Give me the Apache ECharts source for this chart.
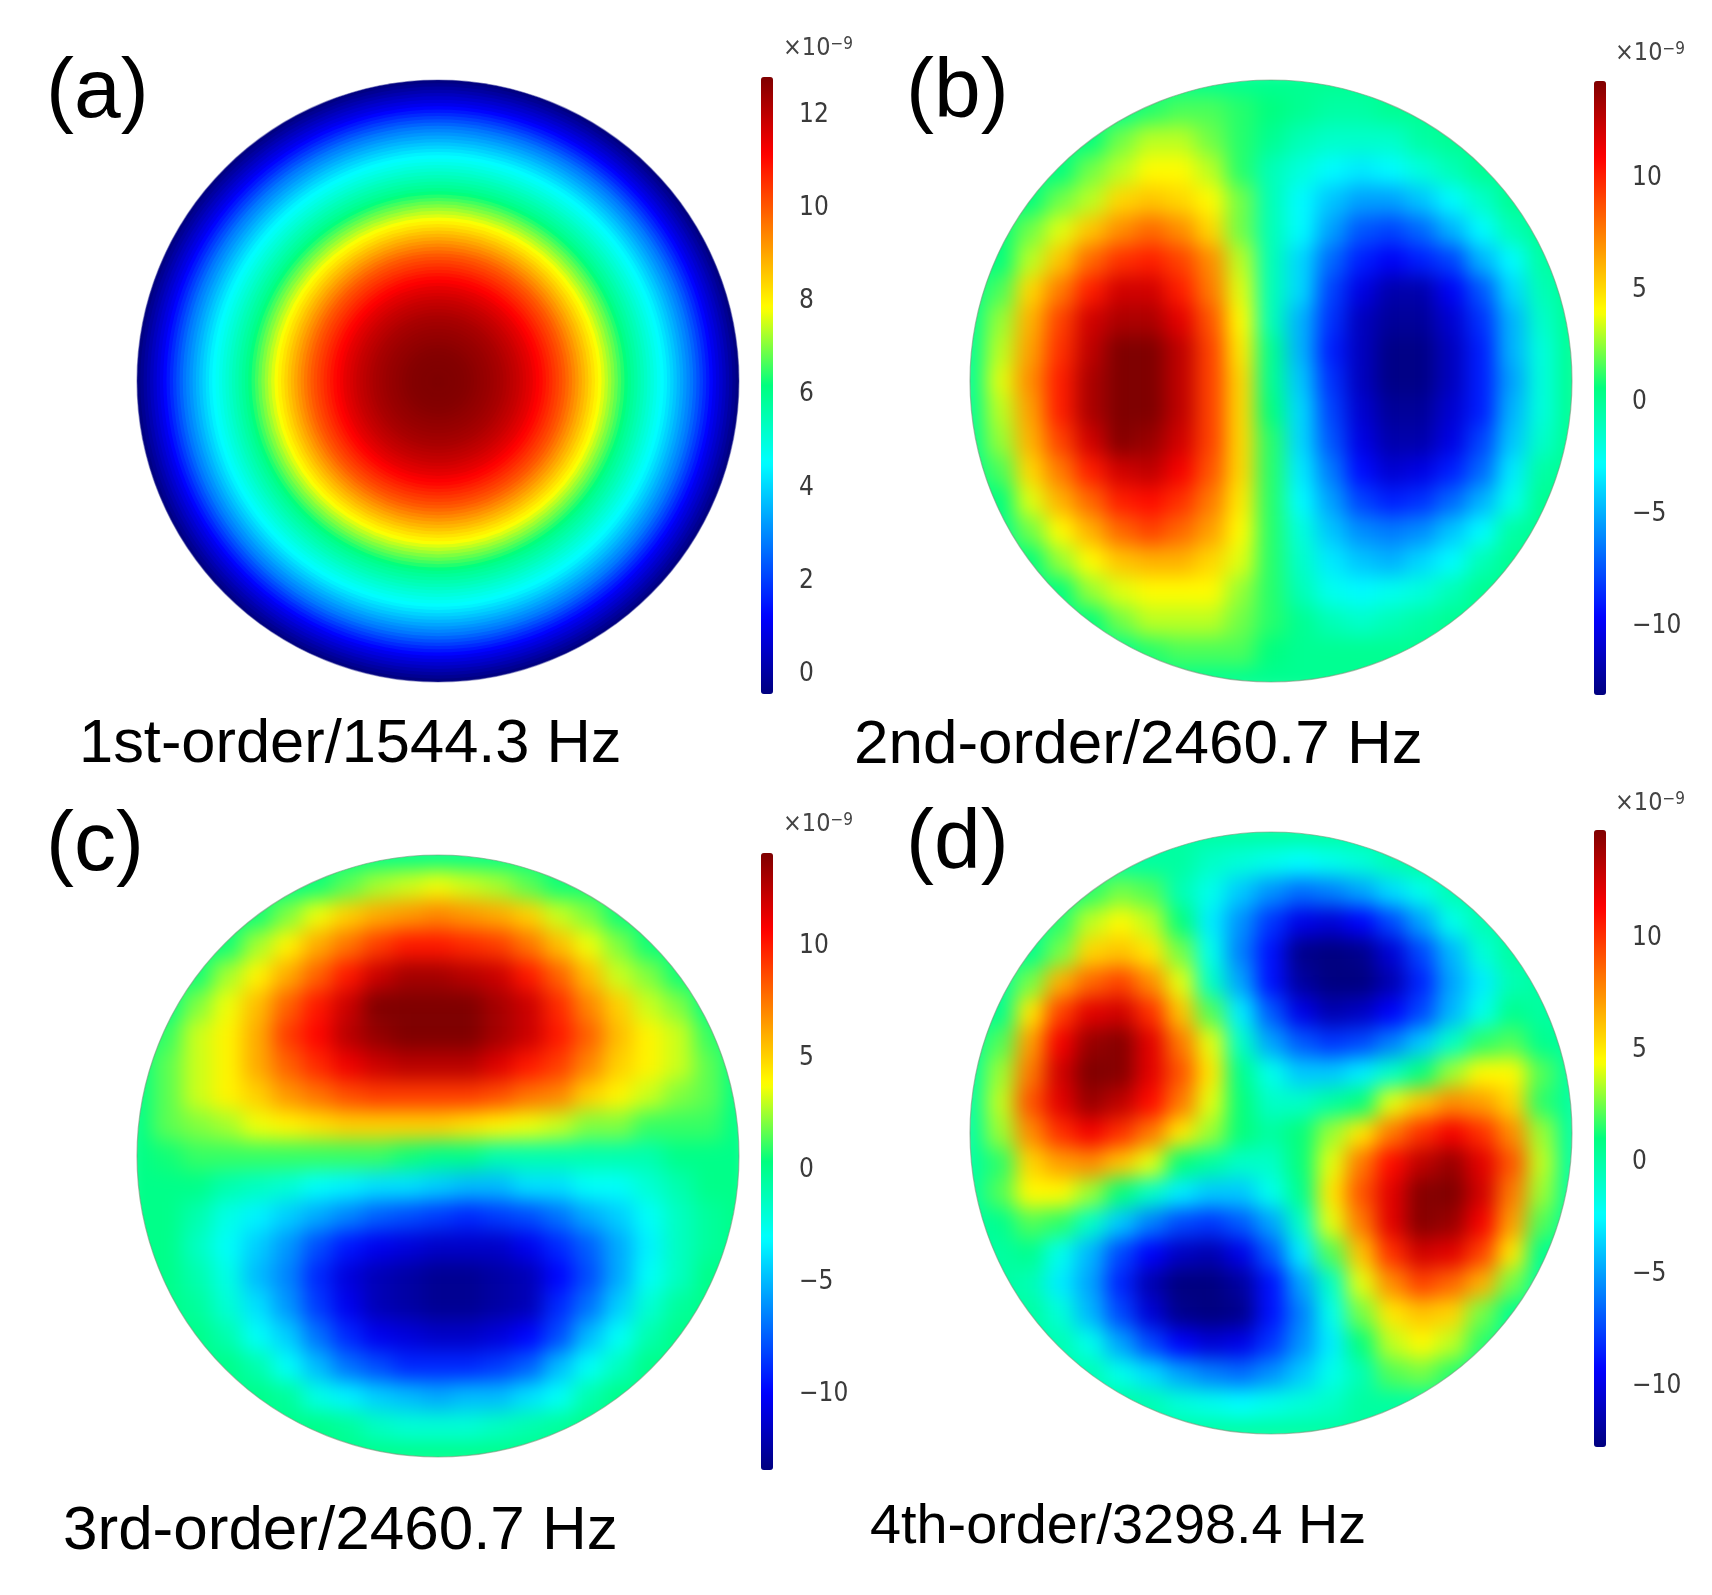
<!DOCTYPE html>
<html><head><meta charset="utf-8">
<style>html,body{margin:0;padding:0;background:#fff}#c{width:1712px;height:1595px}</style>
<script src="https://cdn.jsdelivr.net/npm/echarts@6/dist/echarts.min.js"></script>
</head><body><div id="c"></div>
<script>
const jetColors=['#00007f','#0000ff','#0080ff','#00ffff','#00ff7f','#ffff00','#ff8000','#ff0000','#7f0000'];
const gridTicks=[-1,-.9,-.8,-.7,-.6,-.5,-.4,-.3,-.2,-.1,0,.1,.2,.3,.4,.5,.6,.7,.8,.9,1];
const radialA=[12.75,12.75,12.74,12.73,12.72,12.71,12.70,12.68,12.66,12.63,
12.6,12.56,12.52,12.48,12.44,12.4,12.35,12.3,12.25,12.2,
12.12,12.04,11.96,11.88,11.8,11.7,11.6,11.5,11.4,11.25,
11.12,11.0,10.85,10.7,10.55,10.4,10.25,10.1,9.95,9.75,
9.55,9.35,9.15,8.95,8.75,8.55,8.35,8.15,7.95,7.75,
7.55,7.35,7.15,6.95,6.75,6.55,6.35,6.15,5.95,5.8,
5.65,5.5,5.35,5.2,5.05,4.9,4.75,4.6,4.45,4.3,
4.1,3.9,3.7,3.5,3.3,3.1,2.9,2.7,2.45,2.2,
1.95,1.7,1.45,1.2,.95,.75,.55,.35,.15,-.05,-.25,-.45];
const rowsB=[
[0,0,0,0,0,0,0,0,0,0,0,0,0,0,0,0,0,0,0,0,0],
[0,0,0,0,0,0,1,1.5,1.5,1,.5,0,-.5,-.5,0,0,0,0,0,0,0],
[0,0,0,0,.5,2,3,3,2,1,0,-1,-1.5,-1.5,-1.5,-.5,0,0,0,0,0],
[0,0,0,.5,2,3,4,4,3,1,-1,-2,-3,-3.5,-3,-2,-1,0,0,0,0],
[0,0,.5,2,3,5,5.5,5,4,2,-1,-3,-4.5,-5.5,-5.5,-4.5,-3,-1.5,0,0,0],
[0,.5,2,3.5,5.5,7,8,7,5,2,-1,-3,-5.5,-7.5,-8,-7,-5,-3,-1,0,0],
[0,.5,3,5.5,8,9.5,10,9,7,3,-1,-4,-7,-9,-10,-9,-8,-5,-3,-.5,0],
[0,1.5,5,7.5,10,12,12,10,7.5,3.5,-1,-4,-8,-10.5,-12,-12,-10,-7.5,-4,-1,0],
[0,2.5,6,9,12,13,13,11.5,8.5,4,-1,-5,-8.5,-11.5,-12.5,-12.5,-11,-8.5,-5,-1.5,0],
[0,3,6.5,9.5,12.5,14.5,14.5,12.5,9,4.5,0,-5,-9,-11.5,-13,-13,-11.5,-9,-5,-2,0],
[0,3.5,7,10,13,15,14.5,12.5,9,5,0,-4.5,-8.5,-11.5,-13,-13,-11.5,-9,-5.5,-2,0],
[0,3,6.5,10,13,15,14.5,12.5,9,5,.5,-4,-8,-11,-12.5,-12.5,-11,-9,-5,-2,0],
[0,2.5,6,9,12,14,13.5,12,9,5,1,-4,-7.5,-10.5,-12,-12,-10.5,-8,-4.5,-1.5,0],
[0,1.5,5,7.5,10,12,12.5,11,8.5,5,1,-3.5,-6.5,-9.5,-11,-10.5,-9,-7,-3.5,-.5,0],
[0,.5,3.5,6,8,10,10.5,9.5,7.5,4.5,1,-3,-5.5,-8,-9,-8.5,-7,-5,-2.5,0,0],
[0,0,2,4,6,8,9,8,6.5,4,1,-2,-4.5,-6,-6.5,-6,-4.5,-3,-.5,0,0],
[0,0,.5,2.5,4,5.5,6,6,5,3.5,1,-1.5,-3.5,-4.5,-5,-4,-3,-1,0,0,0],
[0,0,0,.5,2.5,3.5,4,4,4,2.5,1,-1,-2.5,-3,-2.5,-2,-1,0,0,0,0],
[0,0,0,0,.5,2,3,3,3,2,1,0,-1,-1.5,-1,-.5,0,0,0,0,0],
[0,0,0,0,0,0,1,1.5,1.5,1.5,.5,0,0,0,0,0,0,0,0,0,0],
[0,0,0,0,0,0,0,0,0,0,0,0,0,0,0,0,0,0,0,0,0]];
const rowsC=[
[0,0,0,0,0,0,0,0,0,0,0,0,0,0,0,0,0,0,0,0,0],
[0,0,0,0,0,0,.5,1.5,2.5,3,3.5,3,2.5,1.5,.5,.5,0,0,0,0,0],
[0,0,0,0,.5,2,3.5,5,6,6.5,7,6.5,6,5,3,2,.5,0,0,0,0],
[0,0,0,.5,2.5,4,6,7.5,9,10,10,9.5,9,7.5,5.5,3.5,2,.5,0,0,0],
[0,0,.5,2.5,4,6,8,10,12,13,13,12.5,12,10,8,5.5,3,2,.5,0,0],
[0,0,2,3.5,5.5,8,10,12,14,15,15,14.5,13,12,9.5,7,5,3,2,0,0],
[0,1,3,4,6,9,10.5,12.5,13.5,14.5,14.5,14.5,13,12,10,8,5.5,4,3,1,0],
[0,1.5,3,4,6,8,9.5,11,12,12.5,12.5,12.5,11.5,10,9,7,5,4,3,1.5,0],
[0,1.5,3,4,5,6.5,7.5,8.5,9,9,9,9,8.5,7.5,7,5,4,3,2,1.5,0],
[0,1.5,2,2.5,3.5,4,4.5,5,5,5,5,4.5,4,3.5,3,2,2,1,1,1,0],
[0,.5,1,1,1,1,1,1,1,.5,0,0,-1,-1,-1,-1,-1,-1,0,0,0],
[0,0,0,-1,-1.5,-2,-3,-3.5,-4,-4,-4.5,-5,-5,-4,-4,-3,-3,-2,-1,0,0],
[0,0,-1,-2.5,-3.5,-4.5,-5.5,-6.5,-7.5,-8,-8.5,-9,-8.5,-8,-7,-5.5,-4.5,-3,-1.5,-.5,0],
[0,0,-1.5,-3,-4.5,-6,-8,-9.5,-10.5,-11,-11.5,-11.5,-11.5,-10.5,-9,-7.5,-5.5,-3.5,-1.5,-.5,0],
[0,0,-1,-2.5,-5,-6.5,-9,-11,-12,-12.5,-13,-13,-12.5,-12,-10,-8,-5.5,-3,-1.5,0,0],
[0,0,-.5,-2,-4,-6,-8.5,-10.5,-12,-12.5,-13,-13,-12.5,-12,-9,-7,-4.5,-2,-.5,0,0],
[0,0,0,-1,-3,-4.5,-7,-9,-10.5,-11,-11.5,-11.5,-11,-10,-8,-5,-3,-1,0,0,0],
[0,0,0,0,-1,-3,-5,-7,-8,-9,-9,-9,-8.5,-7.5,-5,-3,-1.5,0,0,0,0],
[0,0,0,0,0,-.5,-2.5,-3.5,-4.5,-5,-5.5,-5,-5,-4,-3,-1,0,0,0,0,0],
[0,0,0,0,0,0,0,-.5,-1.5,-2,-2,-2,-1.5,-1,-.5,0,0,0,0,0,0],
[0,0,0,0,0,0,0,0,0,0,0,0,0,0,0,0,0,0,0,0,0]];
const rowsD=[
[0,0,0,0,0,0,0,0,0,0,0,0,0,0,0,0,0,0,0,0,0],
[0,0,0,0,0,0,0,0,-1,-1.5,-2,-2.5,-2,-1.5,-.5,0,0,0,0,0,0],
[0,0,0,0,1.5,2.5,2,-.5,-2,-4,-5.5,-6.5,-6,-5,-3.5,-2,-.5,0,0,0,0],
[0,0,0,1.5,3.5,4.5,3.5,1,-3,-5.5,-8,-10,-10.5,-9.5,-7.5,-5,-2,-.5,0,0,0],
[0,0,.5,2.5,5.5,6,5,2.5,-2,-6,-9,-12.5,-13.5,-12.5,-10.5,-7.5,-4.5,-1.5,0,0,0],
[0,0,2.5,6.5,8.5,9.5,7.5,4,-1,-5,-9,-12,-13.5,-13,-11.5,-8.5,-5,-3,-.5,0,0],
[0,.5,5,9.5,12,12.5,10,6,2,-3,-7,-10,-11.5,-11,-9.5,-7.5,-4.5,-2,.5,0,0],
[0,2,7,11.5,14,14.5,12,8,4,-1,-5,-7,-8,-7.5,-6,-4,-1,1.5,2,.5,0],
[0,3,8,12.5,15,14.5,12,9,5,.5,-2,-4,-4,-3,-1,1,3,4.5,4.5,2,0],
[0,3.5,9,12,14,13,11,8,4,1,-1,-1,0,1,4,6,7.5,7,5.5,1.5,0],
[0,3,7.5,10,11.5,10,8,5,3,1,0,1,3,5,8,10,11.5,10,7.5,3,0],
[0,1.5,5.5,7,7.5,6,4,1,0,-1,-1,1,4,8,11,13,14,12,9,3.5,0],
[0,2,4.5,4.5,3,1,-1,-3,-4,-4,-2,.5,5,9,12,14.5,15,12.5,8,3,0],
[0,.5,2,1.5,-1,-4,-6,-7.5,-8,-7,-5,-1,4,8,12,14.5,14,11.5,7,2,0],
[0,0,.5,-2,-4.5,-7.5,-9.5,-11,-11.5,-10,-7,-3,2,6,10,12.5,12,9.5,5,.5,0],
[0,0,-.5,-3,-5,-8.5,-11.5,-13,-13.5,-12,-9,-5,-1,4,7.5,9.5,8.5,6.5,2.5,0,0],
[0,0,0,-1.5,-4.5,-7.5,-10.5,-12.5,-13.5,-12.5,-9,-6,-2,2.5,5,6,5.5,2.5,.5,0,0],
[0,0,0,-.5,-2,-5,-7.5,-9.5,-10.5,-10,-8,-5.5,-3,1,3.5,4.5,3.5,1.5,0,0,0],
[0,0,0,0,-.5,-2,-3.5,-5,-6,-6.5,-5.5,-4,-2,-.5,2,2.5,1.5,0,0,0,0],
[0,0,0,0,0,0,-.5,-1.5,-2,-2.5,-2,-1.5,-1,0,0,0,0,0,0,0,0],
[0,0,0,0,0,0,0,0,0,0,0,0,0,0,0,0,0,0,0,0,0]];
const rangeA=[-0.49,12.75],rangeB=[-13.2,14.2],rangeC=[-13.5,14.05],rangeD=[-12.85,14.7];
const ticksA=[0,2,4,6,8,10,12],ticksBCD=[-10,-5,0,5,10];
const captions=['1st-order/1544.3 Hz','2nd-order/2460.7 Hz','3rd-order/2460.7 Hz','4th-order/3298.4 Hz'];
const panelLabels=['(a)','(b)','(c)','(d)'];
const scaleNote='{m|×10}{s|−9}';

const R=301,H=380,GRID=316;
const centers=[[438,381],[1271,381],[438,1156],[1271,1133]];
const bars=[[761,77,617],[1594,81,614],[761,853,617],[1594,830,617]];
const cap=[[79,715,61.4],[854,715,62],[63,1501,62],[870,1500,55.8]];
const lab=[[46,52],[906,52],[46,805],[906,803]];
const note=[[783,36],[1615,41],[783,812],[1615,791]];
const toCells=rows=>rows.flatMap((r,y)=>r.map((v,x)=>[x,y,v]));
const fields=[null,rowsB,rowsC,rowsD];
const ranges=[rangeA,rangeB,rangeC,rangeD];
const grid=[],xAxis=[],yAxis=[],series=[],visualMap=[],title=[],graphicEls=[];

[1,2,3].forEach((p,i)=>{
  const [cx,cy]=centers[p];
  grid.push({left:cx-GRID,top:cy-GRID,width:2*GRID,height:2*GRID});
  xAxis.push({type:'category',gridIndex:i,data:gridTicks.map(String),show:false});
  yAxis.push({type:'category',gridIndex:i,data:gridTicks.map(String),show:false,inverse:true});
  series.push({type:'heatmap',xAxisIndex:i,yAxisIndex:i,data:toCells(fields[p]),zlevel:0,silent:true,progressive:0});
});
series.push({type:'custom',coordinateSystem:'polar',zlevel:1,z:10,silent:true,
  data:radialA.map((v,i)=>[i,v]).reverse(),
  renderItem(params,api){
    const cs=params.coordSys,pt=api.coord([api.value(0)+1,0]);
    return {type:'circle',shape:{cx:cs.cx,cy:cs.cy,r:Math.hypot(pt[0]-cs.cx,pt[1]-cs.cy)},style:{fill:api.visual('color')}};
  }});
// white frames that give panels b, c, d their round outline
series.push({type:'custom',coordinateSystem:'none',zlevel:1,z:1,silent:true,clip:false,
  data:[[1],[2],[3]],
  renderItem(params,api){
    const [cx,cy]=centers[api.value(0)];
    return {type:'path',shape:{pathData:`M${cx-H} ${cy-H}H${cx+H}V${cy+H}H${cx-H}Z M${cx-R} ${cy}A${R} ${R} 0 1 0 ${cx+R} ${cy}A${R} ${R} 0 1 0 ${cx-R} ${cy}Z`,
      x:cx-H,y:cy-H,width:2*H,height:2*H,layout:'cover'},style:{fill:'#fff'}};
  }});
const seriesOfPanel=[3,0,1,2];
bars.forEach(([x,y,h],p)=>{
  const g=grid.length;
  grid.push({left:x,top:y+3,width:12,height:h});
  xAxis.push({type:'value',gridIndex:g,show:false,min:0,max:1});
  yAxis.push({type:'value',gridIndex:g,position:'right',min:ranges[p][0],max:ranges[p][1],zlevel:1,z:20,
    axisLine:{show:false},axisTick:{show:false},splitLine:{show:false},
    axisLabel:{show:true,customValues:p===0?ticksA:ticksBCD,margin:26,color:'#3a3a3a',fontSize:26,fontFamily:'"DejaVu Sans Condensed","DejaVu Sans"',
      formatter:v=>String(v).replace('-','−')}});
  visualMap.push({type:'continuous',seriesIndex:seriesOfPanel[p],dimension:p===0?1:2,min:ranges[p][0],max:ranges[p][1],
    left:x,top:y,itemWidth:12,itemHeight:h,padding:0,calculable:false,showLabel:false,text:null,hoverLink:false,
    inRange:{color:jetColors},zlevel:1,z:20});
  const [cx,cy]=centers[p];
  graphicEls.push({type:'circle',zlevel:1,z:15,silent:true,shape:{cx,cy,r:R},style:{fill:'none',stroke:p===0?'rgba(70,70,160,.5)':'rgba(120,150,120,.6)',lineWidth:1.2}});
  title.push({text:captions[p],left:cap[p][0],top:cap[p][1],padding:0,zlevel:1,z:20,
    textStyle:{fontFamily:'"Liberation Sans"',fontWeight:'normal',fontSize:cap[p][2],color:'#000'}});
  title.push({text:panelLabels[p],left:lab[p][0],top:lab[p][1],padding:0,zlevel:1,z:20,
    textStyle:{fontFamily:'"Liberation Sans"',fontWeight:'normal',fontSize:84,color:'#000'}});
  title.push({text:scaleNote,left:note[p][0],top:note[p][1],padding:0,zlevel:1,z:20,
    textStyle:{fontWeight:'normal',rich:{m:{fontSize:25,color:'#444',fontFamily:'"DejaVu Sans Condensed","DejaVu Sans"'},
      s:{fontSize:17,color:'#444',fontFamily:'"DejaVu Sans Condensed","DejaVu Sans"',verticalAlign:'top'}}}});
});

const chart=echarts.init(document.getElementById('c'),null,{renderer:'canvas'});
chart.setOption({animation:false,backgroundColor:'#fff',tooltip:{show:false},grid,xAxis,yAxis,
  polar:{center:centers[0],radius:R},
  angleAxis:{type:'value',min:0,max:360,show:false},
  radiusAxis:{type:'value',min:0,max:radialA.length,show:false},
  visualMap,series,title,graphic:{elements:graphicEls}});
// soften the sampled cells into a continuous field (display only; the data stay the sampled values)
function soften(){const c=document.querySelector('#c canvas[data-zr-dom-id="zr_0"]');if(c)c.style.filter='blur(10px)';}
soften();chart.on('finished',soften);
</script></body></html>
